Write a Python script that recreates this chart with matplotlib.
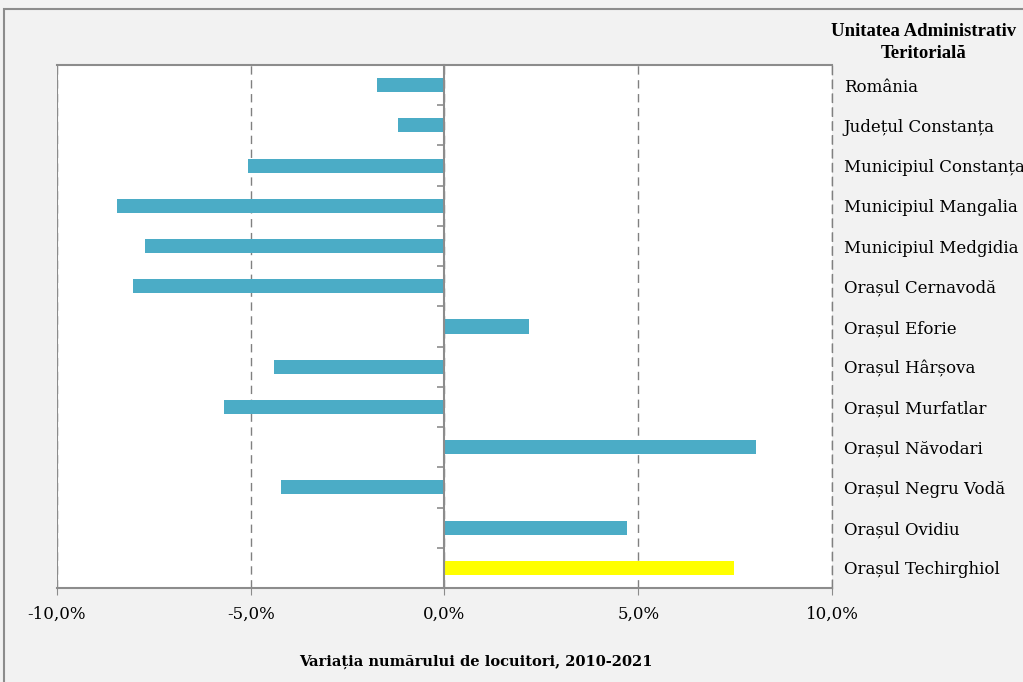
import matplotlib
matplotlib.use('Agg')
import numpy as np
import matplotlib.pyplot as plt
from matplotlib.patches import Rectangle
from matplotlib.lines import Line2D
from matplotlib.ticker import FuncFormatter, FixedLocator

categories = ['România', 'Județul Constanța', 'Municipiul Constanța', 'Municipiul Mangalia',
              'Municipiul Medgidia', 'Orașul Cernavodă', 'Orașul Eforie', 'Orașul Hârșova',
              'Orașul Murfatlar', 'Orașul Năvodari', 'Orașul Negru Vodă', 'Orașul Ovidiu',
              'Orașul Techirghiol']
variatie = [-1.75, -1.19, -5.08, -8.44, -7.74, -8.03, 2.19, -4.41, -5.70, 8.03, -4.21, 4.72, 7.48]
xticks = [-10, -5, 0, 5, 10]

plt.rcParams['font.family'] = ['DejaVu Serif']

fig = plt.figure(figsize=(10.23, 6.82), dpi=100, facecolor='#f2f2f2')
fig.patches.append(Rectangle((0.004, -0.02), 1.1, 1.0068, transform=fig.transFigure,
                             fill=False, edgecolor='#8c8c8c', linewidth=1.5))
ax = fig.add_axes([57/1023, 1-588/682, (832-57)/1023, (588-65)/682])
ax.set_facecolor('white')

y = np.arange(len(categories))
colors = ['#4bacc6'] * (len(categories) - 1) + ['#ffff00']
ax.barh(y, variatie, height=0.35, color=colors, zorder=3)

ax.set_xlim(-10, 10)
ax.set_ylim(len(categories) - 0.5, -0.5)
ax.set_xticks(xticks)
ax.xaxis.set_major_formatter(FuncFormatter(lambda v, p: ('%.1f%%' % v).replace('.', ',')))
ax.tick_params(axis='x', length=5, color='#8c8c8c', labelsize=12, pad=8)
ax.grid(axis='x', color='#808080', linestyle=(0, (6, 4)), linewidth=1, zorder=1)

# y axis at zero, labels on the right
ax.spines['left'].set_position(('data', 0))
for s in ['left', 'top', 'bottom']:
    ax.spines[s].set_color('#8c8c8c')
    ax.spines[s].set_linewidth(1.5)
ax.spines['right'].set_color('#808080')
ax.spines['right'].set_linewidth(1)
ax.spines['right'].set_linestyle((0, (6, 4)))
ax.spines['left'].set_zorder(4)
ax.set_yticks(y)
ax.set_yticklabels(categories)
ax.yaxis.set_minor_locator(FixedLocator(np.arange(len(categories) - 1) + 0.5))
ax.tick_params(axis='y', which='major', left=False, right=False, labelleft=False,
               labelright=True, labelsize=12, pad=5)
ax.tick_params(axis='y', which='minor', left=True, right=False, length=5, color='#8c8c8c', width=1.2)
ax.add_line(Line2D([0, 0], [0, 1], transform=ax.transAxes, color='#8c8c8c', linewidth=1.5, zorder=4))

fig.text(924/1023, 1-32/682, 'Unitatea Administrativ', ha='center', va='center',
         fontsize=13.5, fontweight='bold', family='Liberation Serif')
fig.text(924/1023, 1-53/682, 'Teritorială', ha='center', va='center',
         fontsize=13.5, fontweight='bold', family='Liberation Serif')
fig.text(476/1023, 1-662/682, 'Variația numărului de locuitori, 2010-2021', ha='center',
         va='center', fontsize=10.5, fontweight='bold')

fig.savefig('out.png', dpi=100, facecolor=fig.get_facecolor())
